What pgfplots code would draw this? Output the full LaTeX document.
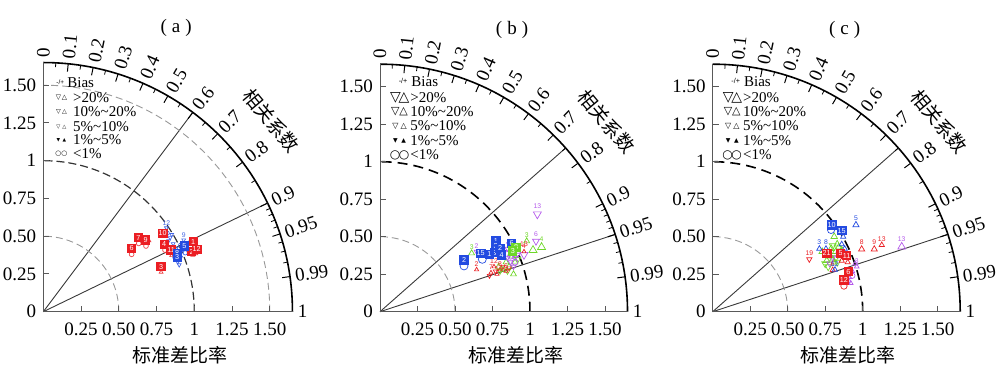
\documentclass[border=0pt]{standalone}
\usepackage{pgfplots}
\pgfplotsset{compat=1.18}
\usepackage{fontspec}
\setmainfont{Liberation Serif}
\newfontfamily\cjk{Noto Sans CJK SC}
\newfontfamily\dejavu{DejaVu Sans}
\newfontfamily\lsans{Liberation Sans}
\definecolor{cr}{RGB}{235,30,35}
\definecolor{cb}{RGB}{35,75,225}
\definecolor{cg}{RGB}{110,215,40}
\definecolor{cp}{RGB}{180,90,235}
\newcommand{\tkf}{\fontsize{9.5}{10}\selectfont}
\newcommand{\lgf}{\fontsize{7.5}{8}\selectfont}
\newcommand{\sqf}{\lsans\fontsize{3.6}{4}\selectfont}
\newcommand{\lbf}{\lsans\fontsize{3.4}{4}\selectfont}
\newcommand{\sym}[1]{\dejavu\fontsize{#1}{#1}\selectfont}

\pgfplotsset{
 tay/.style={anchor=south west, x=#1, y=#1, xmin=0, xmax=1.65, ymin=0, ymax=1.65,
   enlargelimits=false, clip=false, axis lines=left,
   axis line style={-, draw=gray!70!black, line width=0.5pt},
   xtick={0.25,0.5,0.75,1,1.25,1.5}, xticklabels={0.25,0.50,0.75,1,1.25,1.50},
   ytick={0,0.25,0.5,0.75,1,1.25,1.5}, yticklabels={0,0.25,0.50,0.75,1,1.25,1.50},
   tick align=inside, major tick length=3pt, tick style={gray!70!black, line width=0.5pt},
   xticklabel style={font=\tkf, yshift=-2pt}, yticklabel style={font=\tkf}},
 sq/.style={only marks, mark=none, point meta=explicit symbolic, nodes near coords,
   every node near coord/.append style={anchor=center, fill=#1, text=white, font=\sqf, inner sep=0.45pt, minimum size=4.6pt}},
 mk/.style 2 args={color=#1, only marks, mark size=#2, point meta=explicit symbolic, nodes near coords,
   every node near coord/.append style={anchor=south, font=\lbf, inner sep=0.15pt, yshift=#2, text=#1}},
 up/.style 2 args={mk={#1}{#2}, mark=triangle, mark options={line width=0.35pt}},
 dn/.style 2 args={mk={#1}{#2}, mark=triangle, mark options={rotate=180, line width=0.35pt}},
 ci/.style 2 args={mk={#1}{#2}, mark=o, mark options={line width=0.35pt}},
}

% frame: #1 origin x, #2 unit, #3 corr1, #4 corr2, #5 title
\newcommand{\Frame}[5]{%
\begin{scope}[shift={(#1,31.15pt)}, x=#2, y=#2]
 \draw[line width=0.8pt] (1.65,0) arc[start angle=0,end angle=90,radius=1.65];
 \draw[gray!45!black, line width=0.45pt] (0,0) -- ({acos(#3)}:1.65);
 \draw[gray!45!black, line width=0.45pt] (0,0) -- ({acos(#4)}:1.65);
 \draw[gray!80, line width=0.45pt, dash pattern=on 3.5pt off 2pt] (0.5,0) arc[start angle=0,end angle=90,radius=0.5];
 \foreach \c in {0.1,0.2,0.3,0.4,0.5,0.6,0.7,0.8,0.9,0.95,0.99}
   \draw[line width=0.5pt] ({acos(\c)}:1.65) -- ({acos(\c)}:1.598);
 \foreach \c in {0.05,0.15,0.25,0.35,0.45,0.55,0.65,0.75,0.85,0.91,0.92,0.93,0.94,0.96,0.97,0.98}
   \draw[line width=0.4pt] ({acos(\c)}:1.65) -- ({acos(\c)}:1.622);
 \foreach \c in {0,0.1,0.2,0.3,0.4,0.5,0.6,0.7,0.8,0.9,0.95,0.99,1}
   \node[anchor=west, rotate={acos(\c)}, inner sep=2.5pt, font=\tkf] at ({acos(\c)}:1.65) {\c};
 \node[rotate=-50, font=\cjk\tkf] at (40:1.97) {相关系数};
 \node[font=\cjk\tkf] at (0.905,-0.29) {标准差比率};
 \node[font=\tkf] at (0.88,1.878) {(\hspace{2.5pt}#5\hspace{2.5pt})};
\end{scope}}

% legend for panels b and c: #1 origin x
\newcommand{\LegBC}[1]{%
\begin{scope}[shift={(#1,31.15pt)}, x=75pt, y=75pt]
 \node[anchor=east, inner sep=0, font=\lsans\fontsize{3.6}{4}\selectfont] at (0.185,1.537) {-/+};
 \node[anchor=west, inner sep=0, font=\lgf] at (0.207,1.533) {Bias};
 \node[inner sep=0, font=\sym{7}] at (0.103,1.427) {▽};
 \node[inner sep=0, font=\sym{7}] at (0.16,1.427) {△};
 \node[anchor=west, inner sep=0, font=\lgf] at (0.2,1.427) {>20\%};
 \node[inner sep=0, font=\sym{5.5}] at (0.103,1.333) {▽};
 \node[inner sep=0, font=\sym{5.5}] at (0.158,1.333) {△};
 \node[anchor=west, inner sep=0, font=\lgf] at (0.2,1.333) {10\%\textasciitilde 20\%};
 \node[inner sep=0, font=\sym{4}] at (0.103,1.238) {▽};
 \node[inner sep=0, font=\sym{4}] at (0.158,1.238) {△};
 \node[anchor=west, inner sep=0, font=\lgf] at (0.2,1.238) {5\%\textasciitilde 10\%};
 \node[inner sep=0, font=\sym{3}] at (0.103,1.14) {▼};
 \node[inner sep=0, font=\sym{3}] at (0.158,1.14) {▲};
 \node[anchor=west, inner sep=0, font=\lgf] at (0.2,1.14) {1\%\textasciitilde 5\%};
 \node[inner sep=0, font=\sym{6}] at (0.1,1.045) {○};
 \node[inner sep=0, font=\sym{6}] at (0.16,1.045) {○};
 \node[anchor=west, inner sep=0, font=\lgf] at (0.2,1.045) {<1\%};
\end{scope}}

\begin{document}
\begin{tikzpicture}
% ---------------- panel (a)
\Frame{21.65pt}{75.5pt}{0.6}{0.9}{a}
\begin{scope}[shift={(21.65pt,31.15pt)}, x=75.5pt, y=75.5pt]
 \draw[black!80, line width=0.6pt, dash pattern=on 4pt off 2pt] (1,0) arc[start angle=0,end angle=90,radius=1];
 \draw[gray!80, line width=0.45pt, dash pattern=on 3.5pt off 2pt] (1.5,0) arc[start angle=0,end angle=90,radius=1.5];
 \node[anchor=east, inner sep=0, font=\lsans\fontsize{3.2}{4}\selectfont] at (0.14,1.519) {-/+};
 \node[anchor=west, inner sep=0, font=\lgf] at (0.157,1.515) {Bias};
 \foreach \yy/\tt/\ss in {1.417/{>20\%}/3.4, 1.325/{10\%\textasciitilde 20\%}/3.1, 1.225/{5\%\textasciitilde 10\%}/2.6}{
   \node[inner sep=0, font=\sym{\ss}] at (0.1,\yy) {▽};
   \node[inner sep=0, font=\sym{\ss}] at (0.14,\yy) {△};
   \node[anchor=west, inner sep=0, font=\lgf] at (0.195,\yy) {\tt};}
 \node[inner sep=0, font=\sym{2.3}] at (0.1,1.137) {▼};
 \node[inner sep=0, font=\sym{2.3}] at (0.14,1.137) {▲};
 \node[anchor=west, inner sep=0, font=\lgf] at (0.195,1.137) {1\%\textasciitilde 5\%};
 \node[inner sep=0, font=\sym{3.4}] at (0.1,1.044) {○};
 \node[inner sep=0, font=\sym{3.4}] at (0.14,1.044) {○};
 \node[anchor=west, inner sep=0, font=\lgf] at (0.195,1.044) {<1\%};
\end{scope}
\begin{axis}[tay=75.5pt, at={(21.65pt,31.15pt)}]
\addplot[dn={cb!85}{1.1pt}] coordinates {(0.815,0.555)[12] (0.93,0.475)[9] (0.84,0.49)[] (0.86,0.45)[] (0.88,0.42)[] (0.9,0.39)[] (0.87,0.35)[] (0.89,0.33)[] (0.91,0.36)[] (0.86,0.38)[] (0.92,0.41)[] (0.85,0.51)[] (0.83,0.47)[] (0.95,0.42)[] (0.9,0.31)[]};
\addplot[ci={cb!85}{1.1pt}] coordinates {(0.82,0.52)[] (0.88,0.40)[] (0.91,0.44)[] (0.94,0.39)[]};
\addplot[ci={cr!85}{1.2pt}] coordinates {(0.585,0.38)[] (0.632,0.452)[] (0.68,0.435)[] (0.806,0.408)[]};
\addplot[up={cr!85}{1.1pt}] coordinates {(0.70,0.47)[] (0.99,0.375)[] (1.01,0.385)[] (0.78,0.262)[] (0.85,0.372)[] (1.03,0.40)[]};
\addplot[sq={cr}] coordinates {(0.585,0.42)[6] (0.629,0.49)[7] (0.678,0.475)[9] (0.791,0.519)[10] (0.80,0.446)[4] (0.846,0.408)[11] (0.78,0.298)[3] (0.993,0.464)[1] (0.983,0.397)[2] (1.016,0.413)[12]};
\addplot[sq={cb}] coordinates {(0.934,0.435)[5] (0.887,0.387)[8] (0.887,0.36)[3]};
\end{axis}

% ---------------- panel (b)
\Frame{190pt}{75pt}{0.75}{0.95}{b}
\begin{scope}[shift={(190pt,31.15pt)}, x=75pt, y=75pt]
 \draw[black, line width=0.8pt, dash pattern=on 5pt off 3pt] (1,0) arc[start angle=0,end angle=90,radius=1];
\end{scope}
\LegBC{190pt}
\begin{axis}[tay=75pt, at={(190pt,31.15pt)}]
\addplot[up={cg}{1.7pt}] coordinates {(0.611,0.39)[3] (0.978,0.47)[3] (0.89,0.25)[] (0.82,0.28)[] (0.86,0.3)[] (0.9,0.33)[] (0.79,0.3)[] (0.84,0.33)[] (0.88,0.37)[]};
\addplot[up={cg}{2.3pt}] coordinates {(1.077,0.43)[4] (1.02,0.41)[]};
\addplot[dn={cg}{1.6pt}] coordinates {(0.8,0.27)[] (0.85,0.27)[] (0.92,0.35)[]};
\addplot[dn={cp}{2.3pt}] coordinates {(1.049,0.65)[13] (0.96,0.38)[]};
\addplot[dn={cp}{2.0pt}] coordinates {(1.04,0.47)[6]};
\addplot[dn={cp}{1.4pt}] coordinates {(0.644,0.40)[2] (0.85,0.42)[] (0.88,0.40)[] (0.9,0.36)[] (0.87,0.33)[] (0.92,0.38)[] (0.85,0.36)[] (0.83,0.4)[] (0.89,0.3)[] (0.86,0.45)[]};
\addplot[ci={cp}{1.5pt}] coordinates {(0.9,0.33)[] (0.87,0.37)[]};
\addplot[up={cr}{1.2pt}] coordinates {(0.644,0.28)[2] (0.76,0.30)[12] (0.74,0.26)[7] (0.80,0.28)[8] (0.84,0.27)[6] (0.78,0.25)[1] (0.96,0.40)[4]};
\addplot[mk={cr}{0pt}, mark=none] coordinates {(0.96,0.43)[13]};
\addplot[dn={cr}{1.3pt}] coordinates {(0.73,0.24)[] (0.77,0.27)[] (0.82,0.30)[] (0.86,0.29)[]};
\addplot[ci={cb}{2pt}] coordinates {(0.56,0.305)[] (0.682,0.349)[]};
\addplot[sq={cb}] coordinates {(0.56,0.345)[2] (0.671,0.389)[15] (0.773,0.473)[1] (0.77,0.44)[3] (0.762,0.393)[8] (0.80,0.422)[2] (0.811,0.378)[4] (0.878,0.456)[6] (0.729,0.383)[1]};
\addplot[sq={cg}] coordinates {(0.907,0.429)[8] (0.885,0.405)[3]};
\end{axis}

% ---------------- panel (c)
\Frame{356.35pt}{75pt}{0.75}{0.95}{c}
\begin{scope}[shift={(356.35pt,31.15pt)}, x=75pt, y=75pt]
 \draw[black, line width=0.8pt, dash pattern=on 5pt off 3pt] (1,0) arc[start angle=0,end angle=90,radius=1];
\end{scope}
\LegBC{356.35pt}
\begin{axis}[tay=75pt, at={(356.35pt,31.15pt)}]
\addplot[up={cg}{1.9pt}] coordinates {(0.73,0.40)[] (0.76,0.34)[] (0.80,0.35)[] (0.82,0.40)[] (0.83,0.45)[] (0.81,0.50)[] (0.84,0.43)[] (0.79,0.42)[] (0.85,0.38)[] (0.78,0.37)[] (0.81,0.33)[] (0.86,0.41)[]};
\addplot[dn={cg}{2pt}] coordinates {(0.75,0.32)[] (0.77,0.30)[] (0.82,0.36)[] (0.80,0.44)[] (0.83,0.33)[]};
\addplot[up={cp}{2.2pt}] coordinates {(1.26,0.433)[13]};
\addplot[up={cp}{1.4pt}] coordinates {(0.96,0.30)[3] (0.93,0.27)[] (0.95,0.32)[] (0.91,0.23)[] (0.92,0.19)[] (0.90,0.36)[]};
\addplot[dn={cp}{1.6pt}] coordinates {(0.78,0.32)[] (0.80,0.36)[] (0.84,0.38)[]};
\addplot[ci={cp}{1.4pt}] coordinates {(0.9,0.2)[] (0.93,0.24)[]};
\addplot[up={cr}{1.8pt}] coordinates {(0.993,0.416)[8] (1.077,0.416)[9]};
\addplot[up={cr}{1.5pt}] coordinates {(1.127,0.445)[13] (0.8,0.278)[6] (0.90,0.33)[] (0.86,0.34)[]};
\addplot[dn={cr}{1.5pt}] coordinates {(0.644,0.349)[19]};
\addplot[ci={cr}{1.6pt}] coordinates {(0.875,0.171)[]};
\addplot[up={cb}{1.8pt}] coordinates {(0.955,0.578)[5]};
\addplot[up={cb}{1.5pt}] coordinates {(0.711,0.42)[3] (0.755,0.42)[8] (0.87,0.5)[] (0.86,0.45)[] (0.88,0.42)[] (0.815,0.28)[12]};
\addplot[ci={cb}{1.8pt}] coordinates {(0.789,0.545)[]};
\addplot[sq={cb}] coordinates {(0.793,0.578)[10] (0.86,0.54)[15]};
\addplot[sq={cr}] coordinates {(0.76,0.389)[21] (0.853,0.389)[5] (0.893,0.373)[11] (0.904,0.267)[6] (0.875,0.211)[12]};
\end{axis}
\pgfresetboundingbox
\useasboundingbox (0,0) rectangle (500pt,187pt);
\end{tikzpicture}
\end{document}
